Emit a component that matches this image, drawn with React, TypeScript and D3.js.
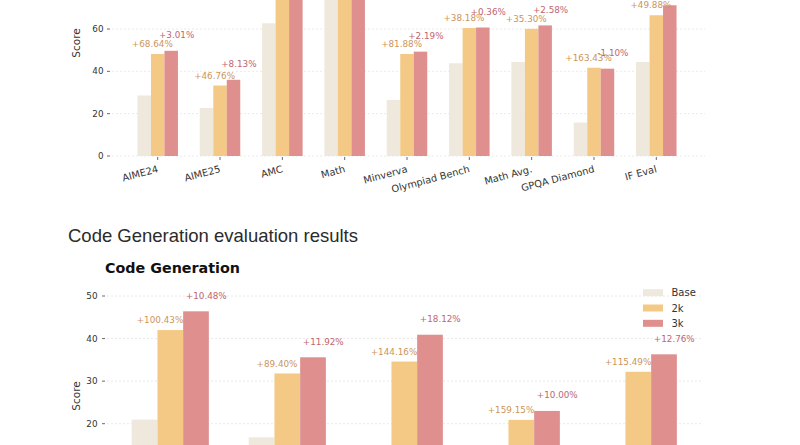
import React from "react";
import * as d3 from "d3";

// ---- Top chart (Math / reasoning) ----
const mathCats = ["AIME24", "AIME25", "AMC", "Math", "Minverva", "Olympiad Bench", "Math Avg.", "GPQA Diamond", "IF Eval"];
const mathBase = [28.6, 22.7, 62.7, 82.1, 26.5, 43.8, 44.4, 15.8, 44.4];
const math2k = [48.2, 33.3, 80.0, 90.4, 48.2, 60.5, 60.1, 41.7, 66.5];
const math3k = [49.7, 36.0, 83.2, 91.3, 49.3, 60.7, 61.7, 41.25, 71.2];
const mathGain2k = ["+68.64%", "+46.76%", "+27.59%", "+10.11%", "+81.88%", "+38.18%", "+35.30%", "+163.43%", "+49.88%"];
const mathGain3k = ["+3.01%", "+8.13%", "+4.00%", "+1.00%", "+2.19%", "+0.36%", "+2.58%", "-1.10%", "+7.07%"];
const mathTicks = [0, 20, 40, 60];

// ---- Bottom chart (Code Generation) ----
const codeCats = ["HumanEval+", "MBPP+", "LiveCodeBench", "BigCodeBench", "Avg."];
const codeBase = [20.95, 16.8, 14.2, 8.07, 14.9];
const code2k = [42.0, 31.8, 34.6, 20.9, 32.2];
const code3k = [46.4, 35.6, 40.9, 23.0, 36.3];
const codeGain2k = ["+100.43%", "+89.40%", "+144.16%", "+159.15%", "+115.49%"];
const codeGain3k = ["+10.48%", "+11.92%", "+18.12%", "+10.00%", "+12.76%"];
const codeTicks = [20, 30, 40, 50];

const seriesNames = ["Base", "2k", "3k"];
const barColors = ["#efe8dc", "#f3c985", "#de8f8e"];
const labelColors = ["#999", "#cd955a", "#bf6670"];

const FONT = "DejaVu Sans, sans-serif";

function BarChart(props: {
  cats: string[];
  series: number[][];
  gains: string[][];
  ticks: number[];
  x: d3.ScaleLinear<number, number>;
  y: d3.ScaleLinear<number, number>;
  left: number;
  right: number;
  bw: number;
  showXLabels: boolean;
  labelTickX: number;
  scoreY: number;
}) {
  const { cats, series, gains, ticks, x, y, left, right, bw, showXLabels, labelTickX, scoreY } = props;
  const y0 = y(0);
  return (
    <g>
      {ticks.map((t) => (
        <g key={"g" + t}>
          <line x1={left} x2={right} y1={y(t)} y2={y(t)} stroke="#e4e4e4" strokeWidth={0.8} strokeDasharray="2,2" />
          <line x1={left - 5} x2={left - 2} y1={y(t)} y2={y(t)} stroke="#444" strokeWidth={0.8} />
          <text x={labelTickX} y={y(t) + 3} textAnchor="end" fontSize={8.8} fill="#333" fontFamily={FONT}>
            {t}
          </text>
        </g>
      ))}
      <text
        transform={`translate(77,${scoreY}) rotate(-90)`}
        textAnchor="middle"
        dominantBaseline="middle"
        fontSize={10.5}
        fill="#333"
        fontFamily={FONT}
      >
        Score
      </text>
      {cats.map((c, i) => {
        const cx = x(i);
        return (
          <g key={c}>
            {series.map((s, j) => {
              const bx = cx + (j - 1) * bw - bw / 2;
              const top = y(s[i]);
              return (
                <rect key={j} x={bx} y={top} width={bw} height={Math.max(0, y0 - top)} fill={barColors[j]} />
              );
            })}
            <text
              x={cx - 0.4 * bw}
              y={y(series[1][i]) - 6.8}
              textAnchor="middle"
              fontSize={8.8}
              fill={labelColors[1]}
              fontFamily={FONT}
            >
              {gains[0][i]}
            </text>
            <text
              x={cx + bw + 0.4 * bw}
              y={y(series[2][i]) - 12.6}
              textAnchor="middle"
              fontSize={8.8}
              fill={labelColors[2]}
              fontFamily={FONT}
            >
              {gains[1][i]}
            </text>
            {showXLabels && (
              <g>
                <line x1={cx} x2={cx} y1={y0 + 1} y2={y0 + 4} stroke="#444" strokeWidth={0.8} />
                <text
                  transform={`translate(${cx + 1},${y0 + 16}) rotate(-15)`}
                  textAnchor="end"
                  fontSize={9.8}
                  fill="#333"
                  fontFamily={FONT}
                >
                  {c}
                </text>
              </g>
            )}
          </g>
        );
      })}
    </g>
  );
}

export default function App() {
  const xTop = d3.scaleLinear().domain([0, mathCats.length - 1]).range([157.7, 656.3]);
  const yTop = d3.scaleLinear().domain([0, 60]).range([156, 29]);
  const xBot = d3.scaleLinear().domain([0, codeCats.length - 1]).range([170.3, 638.3]);
  const yBot = d3.scaleLinear().domain([20, 50]).range([423.7, 296]);

  return (
    <svg
      width={800}
      height={445}
      style={{ position: "absolute", left: 0, top: 0, background: "#fff" }}
      xmlns="http://www.w3.org/2000/svg"
    >
      <rect x={0} y={0} width={800} height={445} fill="#fff" />
      <BarChart
        cats={mathCats}
        series={[mathBase, math2k, math3k]}
        gains={[mathGain2k, mathGain3k]}
        ticks={mathTicks}
        x={xTop}
        y={yTop}
        left={112}
        right={705}
        bw={13.5}
        showXLabels={true}
        labelTickX={103.5}
        scoreY={43}
      />
      <text x={68} y={242} fontSize={18.5} fill="#2b2b2b" fontFamily="Liberation Sans, Arial, sans-serif">
        Code Generation evaluation results
      </text>
      <text x={105} y={273} fontSize={14.3} fontWeight="bold" fill="#111" fontFamily={FONT}>
        Code Generation
      </text>
      <BarChart
        cats={codeCats}
        series={[codeBase, code2k, code3k]}
        gains={[codeGain2k, codeGain3k]}
        ticks={codeTicks}
        x={xBot}
        y={yBot}
        left={107}
        right={703}
        bw={25.7}
        showXLabels={true}
        labelTickX={97.5}
        scoreY={396}
      />
      {seriesNames.map((n, j) => (
        <g key={n}>
          <rect x={643} y={292.7 + j * 15.3 - 3.5} width={20} height={7} fill={barColors[j]} />
          <text x={671.5} y={292.7 + j * 15.3 + 3.6} fontSize={10} fill="#333" fontFamily={FONT}>
            {n}
          </text>
        </g>
      ))}
    </svg>
  );
}
